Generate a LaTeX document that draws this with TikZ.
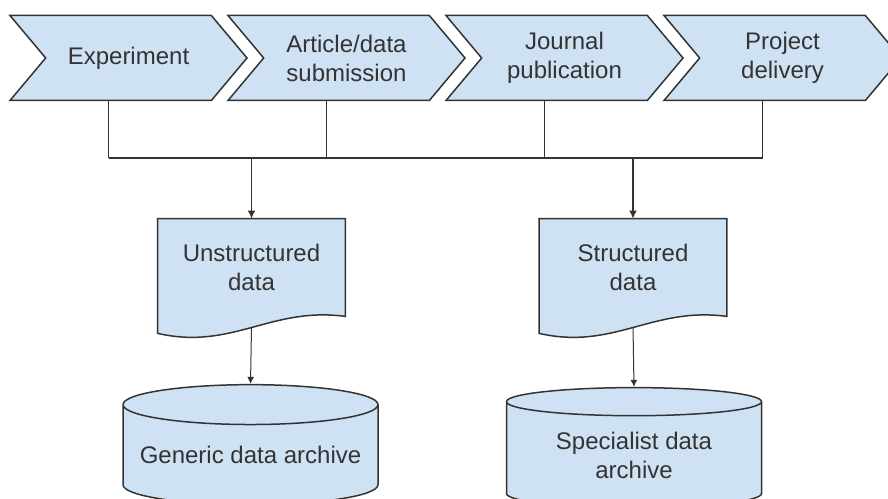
\documentclass[tikz,border=0pt]{standalone}
\usepackage{fontspec}
\setmainfont{Liberation Sans}
\usetikzlibrary{shapes.symbols, shapes.geometric, backgrounds, calc, arrows.meta}
\definecolor{paleblue}{HTML}{CFE2F3}
\definecolor{ink}{HTML}{333333}

\begin{document}
\begin{tikzpicture}[x=0.5pt,y=0.5pt,>={Latex[length=4pt,width=4pt]},node distance=109pt,
    font=\fontsize{12}{14.5}\selectfont,text=ink]
  \tikzstyle{stage}=[signal,signal from=west,signal to=east,signal pointer angle=100,
    fill=paleblue,draw=ink,line width=0.75pt,minimum width=118.5pt,minimum height=42.5pt,
    inner sep=0pt,align=center]
  \tikzstyle{doc}=[minimum width=93.5pt,minimum height=48.5pt,inner sep=0pt,align=center]
  \tikzstyle{docshape}=[fill=paleblue,draw=ink,line width=0.75pt]
  \tikzstyle{archive}=[cylinder,shape border rotate=90,aspect=0.18,fill=paleblue,draw=ink,
    line width=0.75pt,minimum width=127.5pt,minimum height=60pt,inner sep=0pt,align=center]
  \tikzstyle{link}=[draw=ink,line width=0.8pt]
  \tikzstyle{feed}=[draw=ink,line width=0.5pt,>={Latex[length=3.5pt,width=3.5pt]}]

  \useasboundingbox (0,0) rectangle (888,498);

  % process stages
  \node[stage] (exp) at (128.5,440) {Experiment};
  \node[stage] (sub) [right of=exp] {Article/data\\submission};
  \node[stage] (pub) [right of=sub] {Journal\\publication};
  \node[stage] (del) [right of=pub] {Project\\delivery};

  % data products
  \node[doc] (unstr) at (251.5,230.5) {Unstructured\\data};
  \node[doc] (str) at (633,230.5) {Structured\\data};

  % archives
  \node[archive] (gen) at (250.5,43) {Generic data archive};
  \node[archive] (spec) at (634,43) {Specialist data\\archive};

  \begin{scope}[on background layer]
    \foreach \d in {unstr,str}
      \path[docshape] (\d.north west) -- (\d.north east) -- (\d.south east)
        .. controls ($(\d.south east)+(-75,10)$) and ($(\d.south west)+(75,-34)$)
        .. ($(\d.south west)+(0,-17)$) -- cycle;
  \end{scope}

  % collecting line
  \coordinate (bus) at (0,340);
  \foreach \n in {exp,sub,pub,del}
    \draw[link] ([xshift=-10pt]\n.south) -- ([xshift=-10pt]\n.south |- bus);
  \draw[link] ([xshift=-10pt]exp.south |- bus) -- ([xshift=-10pt]del.south |- bus);

  \draw[link,->] (unstr.north |- bus) -- (unstr.north);
  \draw[link,->] (str.north |- bus) -- (str.north);

  \draw[feed,->] ([yshift=-5.5pt]unstr.south) -- (gen.north);
  \draw[feed,->] ([yshift=-5.5pt]str.south) -- (spec.north);
\end{tikzpicture}
\end{document}
